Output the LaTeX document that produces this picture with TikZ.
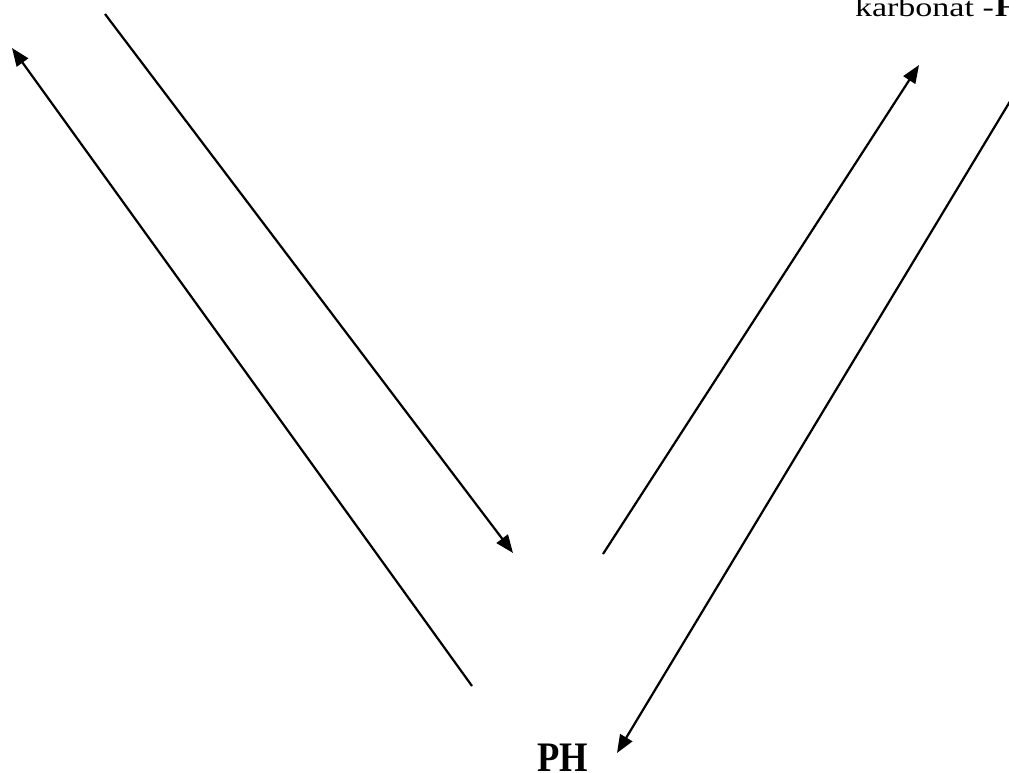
\documentclass[tikz,border=0pt]{standalone}
\usepackage{fontspec}
\setmainfont{Liberation Serif}
\usetikzlibrary{arrows.meta}
\tikzset{
  conn/.style={line width=2.2pt, -{Triangle[length=18pt,width=14pt]}},
  lbl/.style={inner sep=0pt, outer sep=0pt, anchor=base west}
}
\begin{document}
\begin{tikzpicture}[x=1pt,y=-1pt]
\useasboundingbox (0,0) rectangle (1009,773);
% free ends
\coordinate (a1s) at (472,686);
\coordinate (a1e) at (12,48);
\coordinate (a2s) at (105,14);
\coordinate (a2e) at (513,553);
\coordinate (a3s) at (603,554);
\coordinate (a3e) at (919,65);
\coordinate (a4s) at (1012,98);
\coordinate (a4e) at (617,753);
\node[lbl, font=\fontsize{27pt}{30pt}\selectfont] (karb) at (855,17)
  {\scalebox{1.26}[1]{karbonat -\kern1pt\textbf{H}}};
\node[lbl, font=\fontsize{42pt}{46pt}\selectfont\bfseries] (ph) at (537,771) {\scalebox{0.87}[1]{PH}};
\draw[conn] (a1s) -- (a1e);
\draw[conn] (a2s) -- (a2e);
\draw[conn] (a3s) -- (a3e);
\draw[conn] (a4s) -- (a4e);
\end{tikzpicture}
\end{document}
